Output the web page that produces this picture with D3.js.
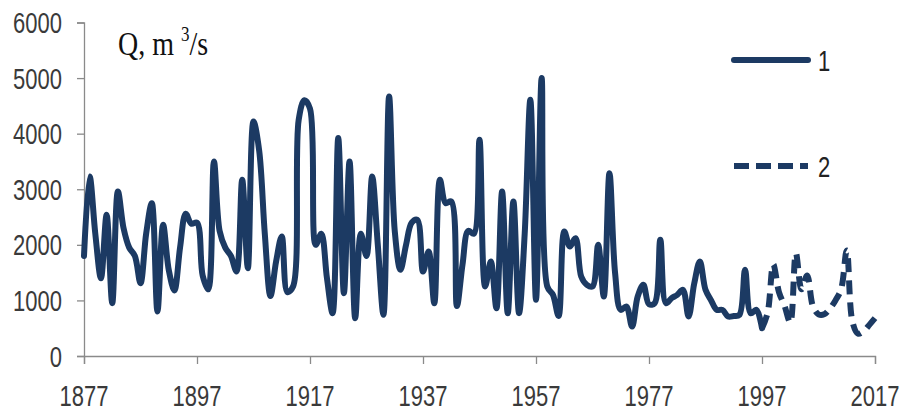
<!DOCTYPE html>
<html>
<head>
<meta charset="utf-8">
<script src="https://cdn.jsdelivr.net/npm/d3@7"></script>
<style>
  html, body { margin: 0; padding: 0; background: #fff; }
  svg { display: block; }
</style>
</head>
<body>
<svg id="chart" width="901" height="414"></svg>
<script>
// ---- data ----
const series1Start = 1877;
const series1Values = [
  1800, 3230, 2200, 1400, 2540, 950, 2960, 2300, 1950, 1800,
  1310, 2200, 2750, 800, 2360, 1550, 1180, 1950, 2560, 2380,
  2400, 1450, 1200, 3500, 2250, 1950, 1800, 1520, 3170, 1580,
  4220, 3700, 2200, 1080, 1700, 2150, 1150, 1250, 4250, 4600,
  4450, 2000, 2200, 1400, 770, 3920, 1130, 3500, 680, 2200,
  1800, 3230, 2000, 740, 4670, 2250, 1550, 2000, 2400, 2450,
  1520, 1880, 950, 3170, 2750, 2780, 900, 1650, 2250, 2200,
  3890, 1250, 1700, 860, 2960, 770, 2780, 770, 2200, 4610,
  1010, 5000, 1250, 1100, 720, 2240, 1970, 2120, 1430, 1280,
  1250, 2000, 1070, 3290, 1490, 830, 890, 530, 1070, 1280,
  930, 950, 2090, 950, 1040, 1100, 1190, 710, 1300, 1700,
  1190, 1000, 830, 830, 710, 720, 740, 1550, 770, 830,
  500
];
const series2Start = 1997;
const series2Values = [
  500, 780, 1650, 1150, 900, 600, 1850, 1200, 1450, 900,
  750, 750, 850, 1000, 1200, 1900, 620, 400, 450, 560,
  680
];
const xTickYears = [1877, 1897, 1917, 1937, 1957, 1977, 1997, 2017];
const yTickValues = [0, 1000, 2000, 3000, 4000, 5000, 6000];
const legendLabels = ["1", "2"];
const titleMain = "Q, m ";
const titleSup = "3";
const titleTail = "/s";

// ---- layout ----
const svg = d3.select("#chart");
const lineColor = "#1c3a63";
const axisColor = "#8a8a8a";
const textColor = "#3a3a3a";

const x = d3.scaleLinear().domain([1877, 2017]).range([84, 875]);
const y = d3.scaleLinear().domain([0, 6000]).range([356, 22.5]);

const s1 = series1Values.map((v, i) => ({ year: series1Start + i, value: v }));
const s2 = series2Values.map((v, i) => ({ year: series2Start + i, value: v }));

// axes
const yAxis = svg.append("g").attr("transform", "translate(84,0)")
  .call(d3.axisLeft(y).tickValues(yTickValues).tickSize(7).tickFormat(""));
const xAxis = svg.append("g").attr("transform", "translate(0,356)")
  .call(d3.axisBottom(x).tickValues(xTickYears).tickSize(8).tickFormat(""));
[yAxis, xAxis].forEach(g => {
  g.selectAll("path").attr("stroke", axisColor).attr("stroke-width", 1.3);
  g.selectAll("line").attr("stroke", axisColor).attr("stroke-width", 1.3);
});

// y tick labels
svg.append("g").selectAll("text").data(yTickValues).join("text")
  .attr("transform", d => `translate(62,${y(d) + 10.5}) scale(1,1.3)`)
  .attr("text-anchor", "end")
  .attr("font-family", "Liberation Sans, Arial, sans-serif")
  .attr("font-size", 22)
  .attr("fill", textColor)
  .text(d => d);

// x tick labels
svg.append("g").selectAll("text").data(xTickYears).join("text")
  .attr("transform", d => `translate(${x(d)},406) scale(1,1.3)`)
  .attr("text-anchor", "middle")
  .attr("font-family", "Liberation Sans, Arial, sans-serif")
  .attr("font-size", 22)
  .attr("fill", textColor)
  .text(d => d);

// lines
const line = d3.line()
  .x(d => x(d.year))
  .y(d => y(d.value))
  .curve(d3.curveCatmullRom.alpha(0.5));

svg.append("path").datum(s1)
  .attr("d", line)
  .attr("fill", "none")
  .attr("stroke", lineColor)
  .attr("stroke-width", 6)
  .attr("stroke-linejoin", "round")
  .attr("stroke-linecap", "round");

svg.append("path").datum(s2)
  .attr("d", line)
  .attr("fill", "none")
  .attr("stroke", lineColor)
  .attr("stroke-width", 6)
  .attr("stroke-dasharray", "14,8")
  .attr("stroke-linejoin", "round");

// title
const title = svg.append("text")
  .attr("transform", "translate(118,55) scale(1,1.2)")
  .attr("font-family", "Liberation Serif, Times New Roman, serif")
  .attr("font-size", 28)
  .attr("fill", "#111");
title.append("tspan").text(titleMain);
title.append("tspan").attr("font-size", 17).attr("dy", -12).text(titleSup);
title.append("tspan").attr("dy", 12).text(titleTail);

// legend
const legendY = [60, 166];
const legend = svg.append("g");
legend.append("line")
  .attr("x1", 734).attr("x2", 808).attr("y1", legendY[0]).attr("y2", legendY[0])
  .attr("stroke", lineColor).attr("stroke-width", 6).attr("stroke-linecap", "round");
legend.append("line")
  .attr("x1", 734).attr("x2", 808).attr("y1", legendY[1]).attr("y2", legendY[1])
  .attr("stroke", lineColor).attr("stroke-width", 6)
  .attr("stroke-dasharray", "15,7");
legend.selectAll("text.lab").data(legendLabels).join("text")
  .attr("class", "lab")
  .attr("transform", (d, i) => `translate(818,${legendY[i] + 11}) scale(1,1.35)`)
  .attr("font-family", "Liberation Sans, Arial, sans-serif")
  .attr("font-size", 22)
  .attr("fill", "#222")
  .text(d => d);
</script>
</body>
</html>
